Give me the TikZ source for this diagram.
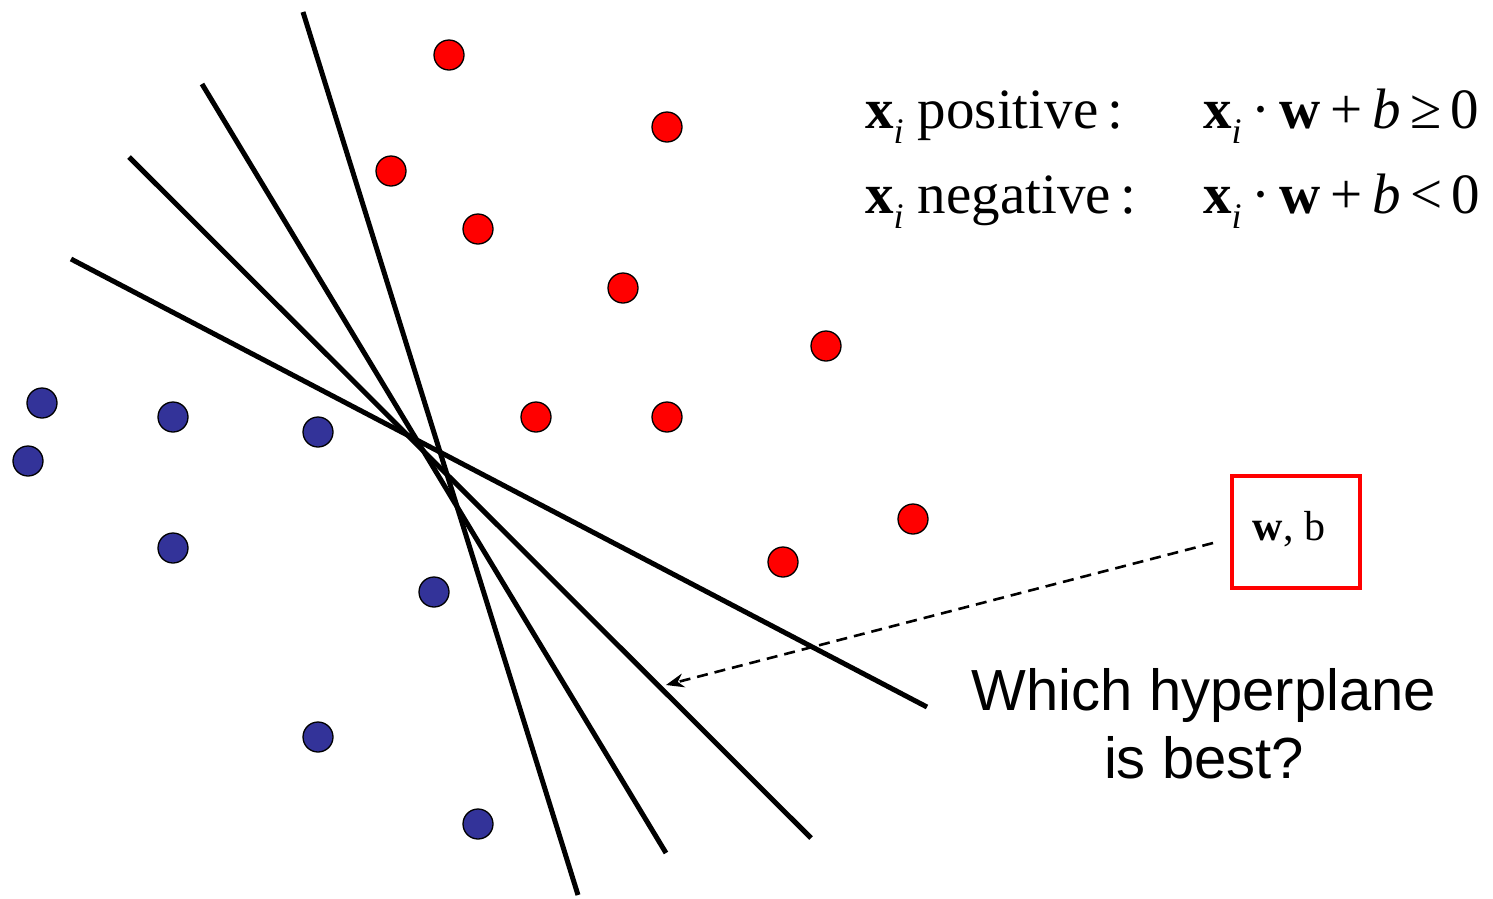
\documentclass[tikz,border=0pt]{standalone}
\usepackage{fontspec}
\setmainfont{Liberation Serif}
\newfontfamily\arialfont{Liberation Sans}
\usetikzlibrary{arrows.meta}
\definecolor{ptred}{RGB}{255,0,0}
\definecolor{ptblue}{RGB}{51,51,153}
\tikzset{
  plane/.style={line width=5pt, line cap=butt},
  posdot/.style={circle, fill=ptred, draw=black, line width=1.3pt, minimum size=30pt, inner sep=0pt},
  negdot/.style={circle, fill=ptblue, draw=black, line width=1.3pt, minimum size=30pt, inner sep=0pt},
  eqtext/.style={anchor=base west, inner sep=0pt, font=\fontsize{57}{60}\selectfont},
}
\newcommand{\xsub}{\textbf{x}\raisebox{-15pt}{\fontsize{36}{36}\selectfont\textit{i}}}
\begin{document}
\begin{tikzpicture}[x=1pt,y=-1pt]
\useasboundingbox (0,0) rectangle (1493,898);
% hyperplanes
\coordinate (l1a) at (303,12);  \coordinate (l1b) at (578,895);
\coordinate (l2a) at (202,84);  \coordinate (l2b) at (666,853);
\coordinate (l3a) at (129,157); \coordinate (l3b) at (811,838);
\coordinate (l4a) at (71,259);  \coordinate (l4b) at (927,707);
\draw[plane] (l1a) -- (l1b);
\draw[plane] (l2a) -- (l2b);
\draw[plane] (l3a) -- (l3b);
\draw[plane] (l4a) -- (l4b);
% positive points
\node[posdot] (p1) at (449,55) {};
\node[posdot] (p2) at (667,127) {};
\node[posdot] (p3) at (391,171) {};
\node[posdot] (p4) at (478,229) {};
\node[posdot] (p5) at (623,288) {};
\node[posdot] (p6) at (826,346) {};
\node[posdot] (p7) at (536,417) {};
\node[posdot] (p8) at (667,417) {};
\node[posdot] (p9) at (913,519) {};
\node[posdot] (p10) at (783,562) {};
% negative points
\node[negdot] (n1) at (42,403) {};
\node[negdot] (n2) at (173,417) {};
\node[negdot] (n3) at (318,432) {};
\node[negdot] (n4) at (28,461) {};
\node[negdot] (n5) at (173,548) {};
\node[negdot] (n6) at (434,592) {};
\node[negdot] (n7) at (318,737) {};
\node[negdot] (n8) at (478,824) {};
% equations
\node[eqtext] (e1l) at (865,128) {\xsub\ positive\,:};
\node[eqtext] (e1r) at (1203,128) {\xsub\,·\,\textbf{w}\,+\,\textit{b}\,≥\,0};
\node[eqtext] (e2l) at (865,213) {\xsub\ negative\,:};
\node[eqtext] (e2r) at (1203,213) {\xsub\,·\,\textbf{w}\,+\,\textit{b}\,<\,0};
% w, b box
\node[draw=ptred, line width=4.5pt, minimum width=128pt, minimum height=112pt, inner sep=0pt] (wb) at (1296,532) {};
\node[anchor=base, inner sep=0pt, font=\fontsize{42}{44}\selectfont] (wbt) at (1289,540) {\textbf{w}, b};
\coordinate (arrstart) at (1213,543);
\coordinate (arrend) at (666,685);
\draw[line width=2.6pt, dash pattern=on 11pt off 7pt, -{Stealth[length=18pt,width=14pt]}] (arrstart) -- (arrend);
% question
\node[anchor=base, inner sep=0pt, font=\arialfont\fontsize{58}{60}\selectfont] (q1) at (1204,710) {Which hyperplane};
\node[anchor=base, inner sep=0pt, font=\arialfont\fontsize{58}{60}\selectfont] (q2) at (1204,778) {is best?};
\end{tikzpicture}
\end{document}
